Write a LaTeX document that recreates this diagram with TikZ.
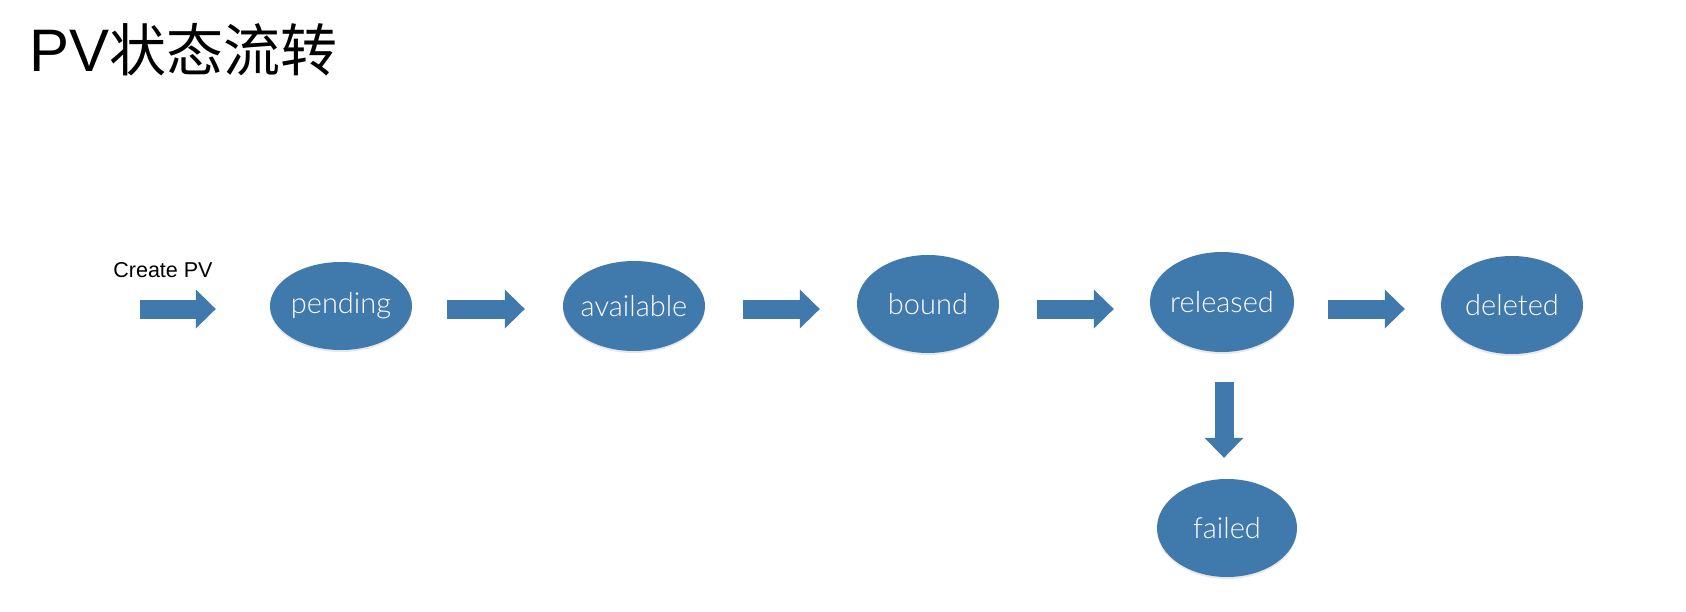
\documentclass[tikz,border=0pt]{standalone}
\usepackage{fontspec}
\setmainfont{Liberation Sans}
\newfontfamily\cjkfont{Noto Sans CJK SC}
\newfontfamily\lightfont{Lato Light}
\usetikzlibrary{shapes.geometric,arrows.meta,calc,shadows}
\definecolor{stateblue}{RGB}{64,122,172}
\tikzset{
  state/.style={ellipse, fill=stateblue, text=white, inner xsep=-8pt, inner ysep=0pt,
    minimum width=142pt, font=\lightfont\fontsize{29}{30}\selectfont,
    drop shadow={opacity=0.18, shadow xshift=0pt, shadow yshift=-2pt}},
  blockarrow/.style={draw=stateblue, line width=19pt,
    -{Triangle[width=39pt,length=20pt,line width=0pt]}}
}
\begin{document}
\begin{tikzpicture}[x=1pt,y=-1pt]
\useasboundingbox (0,0) rectangle (1686,612);
\fill[white] (0,0) rectangle (1686,612);
\node[anchor=base west, inner sep=0pt] (title) at (29,72)
  {\fontsize{60}{62}\selectfont PV\cjkfont\fontsize{57}{62}\selectfont 状态流转};
\node[anchor=base, inner sep=0pt, font=\fontsize{21.5}{24}\selectfont] (createlbl) at (163,278) {Create PV};
\coordinate (start) at (140,309);
\node[state, minimum height=88pt] (pending) at (341,306) {pending};
\node[state, minimum height=90pt] (available) at (634,306) {available};
\node[state, minimum height=98pt] (bound) at (928,304) {bound};
\node[state, minimum width=144pt, minimum height=100pt] (released) at (1222,302) {released};
\node[state, minimum height=98pt] (deleted) at (1512,305) {deleted};
\node[state, minimum width=140pt, minimum height=98pt] (failed) at (1227,528) {failed};
\draw[blockarrow] (start) -- ($(pending.west)+(-54,3)$);
\draw[blockarrow] ($(pending.east)+(35,3)$) -- ($(available.west)+(-38,3)$);
\draw[blockarrow] ($(available.east)+(38,3)$) -- ($(bound.west)+(-37,5)$);
\draw[blockarrow] ($(bound.east)+(38,5)$) -- ($(released.west)+(-36,7)$);
\draw[blockarrow] ($(released.east)+(34,7)$) -- ($(deleted.west)+(-36,4)$);
\draw[blockarrow] ($(released.south)+(2,30)$) -- ($(failed.north)+(-3,-21)$);
\end{tikzpicture}
\end{document}
